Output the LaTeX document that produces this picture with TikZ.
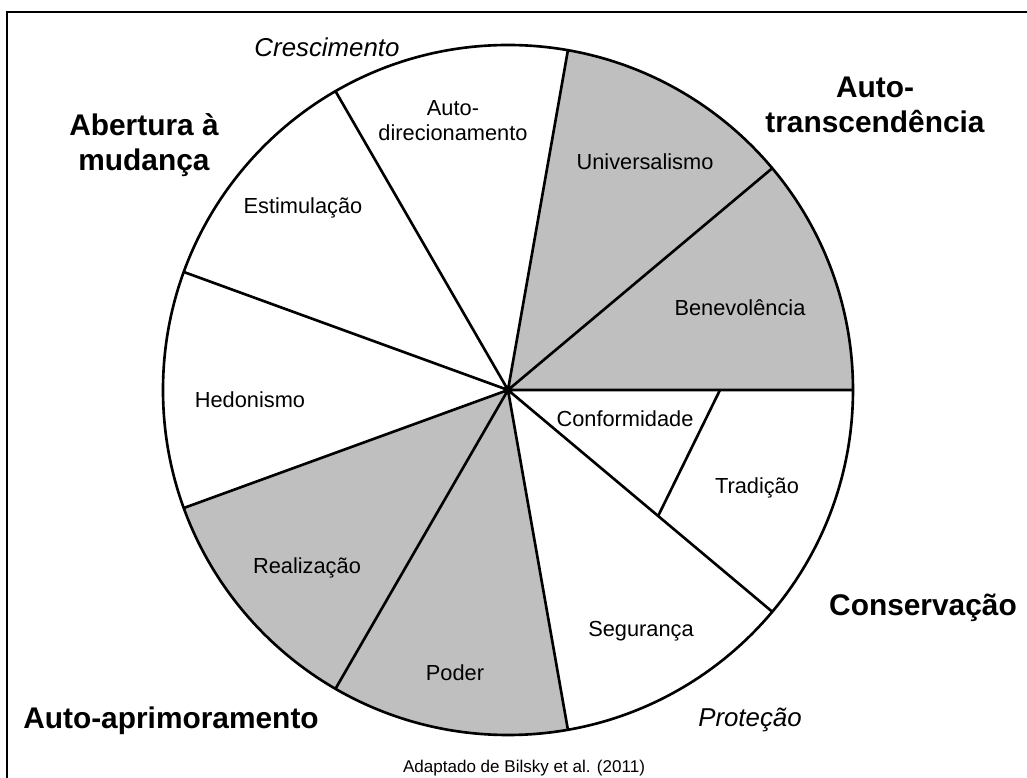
\documentclass[tikz,border=0pt]{standalone}
\usepackage{fontspec}
\setmainfont{Liberation Sans}
\usetikzlibrary{positioning}
\usetikzlibrary{calc}

\begin{document}
\begin{tikzpicture}[line width=1.5pt,
			every node/.style={font=\fontsize{12.4}{14.2}\selectfont,align=center},
			group/.style={font=\bfseries\fontsize{17}{19.8}\selectfont},
			pole/.style={font=\itshape\fontsize{14.7}{17}\selectfont},
			shaded/.style={fill=black!25}]
			\useasboundingbox (-10.16,-7.76) rectangle (10.38,7.8);
			% frame
			\draw[line width=1.2pt] (-10.02,-8.2) -- (-10.02,7.56) -- (10.8,7.56);
			
			\coordinate (O) at (0,0);
			\fill[shaded] (O) -- (0:6.9) arc (0:80:6.9) -- cycle;
			\fill[shaded] (O) -- (200:6.9) arc (200:280:6.9) -- cycle;
			\draw (O) circle (6.9);
			\draw (O) -- (0:6.9)   (O) -- (40:6.9)  (O) -- (80:6.9)
			(O) -- (120:6.9) (O) -- (160:6.9) (O) -- (200:6.9)
			(O) -- (240:6.9) (O) -- (280:6.9) (O) -- (320:6.9);
			\draw (0:4.24) -- (-40:3.92);
			
			\node (autodir)  at (-1.1,5.39)  {Auto-\\direcionamento};
			\node (univ)     at (2.74,4.56)  {Universalismo};
			\node (estim)    at (-4.1,3.64)  {Estimulação};
			\node (benev)    at (4.64,1.64)  {Benevolência};
			\node (hedon)    at (-5.16,-0.2) {Hedonismo};
			\node (conform)  at (2.34,-0.58) {Conformidade};
			\node (trad)     at (4.98,-1.96) {Tradição};
			\node (realiz)   at (-4.02,-3.56){Realização};
			\node (segur)    at (2.66,-4.82) {Segurança};
			\node (poder)    at (-1.06,-5.66){Poder};
			
			\node[group] (abert)   at (-7.28,4.89) {Abertura à\\mudança};
			\node[group] (transc)  at (7.34,5.71)  {Auto-\\transcendência};
			\node[group] (conserv) at (8.3,-4.36)  {Conservação};
			\node[group] (aprim)   at (-6.74,-6.62){Auto-aprimoramento};
			
			\node[pole] (cresc) at (-3.62,6.86) {Crescimento};
			\node[pole] (prot)  at (4.84,-6.6)  {Proteção};
			
			\node[font=\fontsize{9.7}{11}\selectfont] (fonte) at (0.32,-7.56) {Adaptado de Bilsky et al. (2011)};
			\end{tikzpicture}
\end{document}
